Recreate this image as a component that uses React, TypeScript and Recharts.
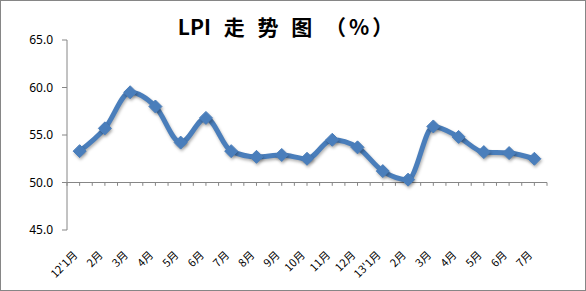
import { LineChart, Line, XAxis, YAxis, ReferenceLine } from "recharts";

const categories = ["12'1月", "2月", "3月", "4月", "5月", "6月", "7月", "8月", "9月", "10月", "11月", "12月", "13'1月", "2月", "3月", "4月", "5月", "6月", "7月"];
const lpi = [53.3, 55.7, 59.5, 58.0, 54.2, 56.8, 53.3, 52.7, 52.9, 52.5, 54.5, 53.7, 51.2, 50.3, 55.9, 54.8, 53.2, 53.1, 52.5];
const yTicks = [45, 50, 55, 60, 65];
const baseValue = 50;

const data = categories.map((name, i) => ({ i, name, lpi: lpi[i] }));
// minor ticks on the 50 line, every half category
const halfTicks = Array.from({ length: categories.length * 2 + 1 }, (_, k) => -0.5 + k * 0.5);

const blue = "#4a7ebb";
const axisGray = "#868686";

function Diamond(props: any) {
  const { cx, cy, index } = props;
  if (cx == null || cy == null) return null;
  const r = 6.5;
  return (
    <polygon
      key={index}
      points={`${cx},${cy - r} ${cx + r},${cy} ${cx},${cy + r} ${cx - r},${cy}`}
      fill={blue}
      stroke={blue}
      strokeWidth={1}
    />
  );
}

function MonthTick(props: any) {
  const { x, y, payload } = props;
  const label = categories[payload.value];
  const ax = x - 4;
  const ay = y + 21;
  return (
    <text
      x={ax}
      y={ay}
      transform={`rotate(-45 ${ax} ${ay})`}
      textAnchor="end"
      dy="0.35em"
      fontSize={11}
      fontFamily="'Noto Sans CJK SC', 'Noto Sans', sans-serif"
      fill="#000"
    >
      {label}
    </text>
  );
}

export default function App() {
  return (
    <div style={{ position: "absolute", left: 0, top: 0, width: 586, height: 291, background: "#fff" }}>
      <style>{`.recharts-line path, .recharts-line-dots polygon { filter: drop-shadow(1px 2px 1.5px rgba(0,0,0,0.3)); }`}</style>
      <div
        style={{
          position: "absolute",
          left: 0,
          top: 11,
          width: 574,
          textAlign: "center",
          fontFamily: "'Noto Sans CJK SC', sans-serif",
          fontWeight: "bold",
          fontSize: 21,
          lineHeight: "30px",
          wordSpacing: 8,
          whiteSpace: "pre",
        }}
      >
        {"LPI 走 势 图 "}
        <span style={{ letterSpacing: 3 }}>{"（%）"}</span>
      </div>
      <LineChart width={586} height={291} data={data} margin={{ top: 40, right: 39, bottom: 0, left: 0 }}>
        <XAxis
          dataKey="i"
          type="number"
          domain={[-0.5, categories.length - 0.5]}
          ticks={categories.map((_, i) => i)}
          interval={0}
          axisLine={false}
          tickLine={false}
          tickSize={0}
          height={61}
          tick={<MonthTick />}
        />
        <YAxis
          domain={[45, 65]}
          ticks={yTicks}
          tickFormatter={(v: number) => v.toFixed(1)}
          width={67}
          stroke={axisGray}
          tickSize={5}
          tickMargin={9}
          tick={{ fontSize: 12, fill: "#000", fontFamily: "'Noto Sans', sans-serif" }}
        />
        <ReferenceLine y={baseValue} stroke={axisGray} strokeWidth={1} />
        {halfTicks.map((t) => (
          <ReferenceLine
            key={t}
            segment={[{ x: t, y: baseValue }, { x: t, y: baseValue - 0.35 }]}
            stroke={axisGray}
            strokeWidth={1}
            ifOverflow="visible"
          />
        ))}
        <Line
          dataKey="lpi"
          type="monotone"
          stroke={blue}
          strokeWidth={5}
          dot={<Diamond />}
          activeDot={false}
          isAnimationActive={false}
        />
      </LineChart>
      <div style={{ position: "absolute", inset: 0, border: `1px solid ${axisGray}`, pointerEvents: "none" }} />
    </div>
  );
}
